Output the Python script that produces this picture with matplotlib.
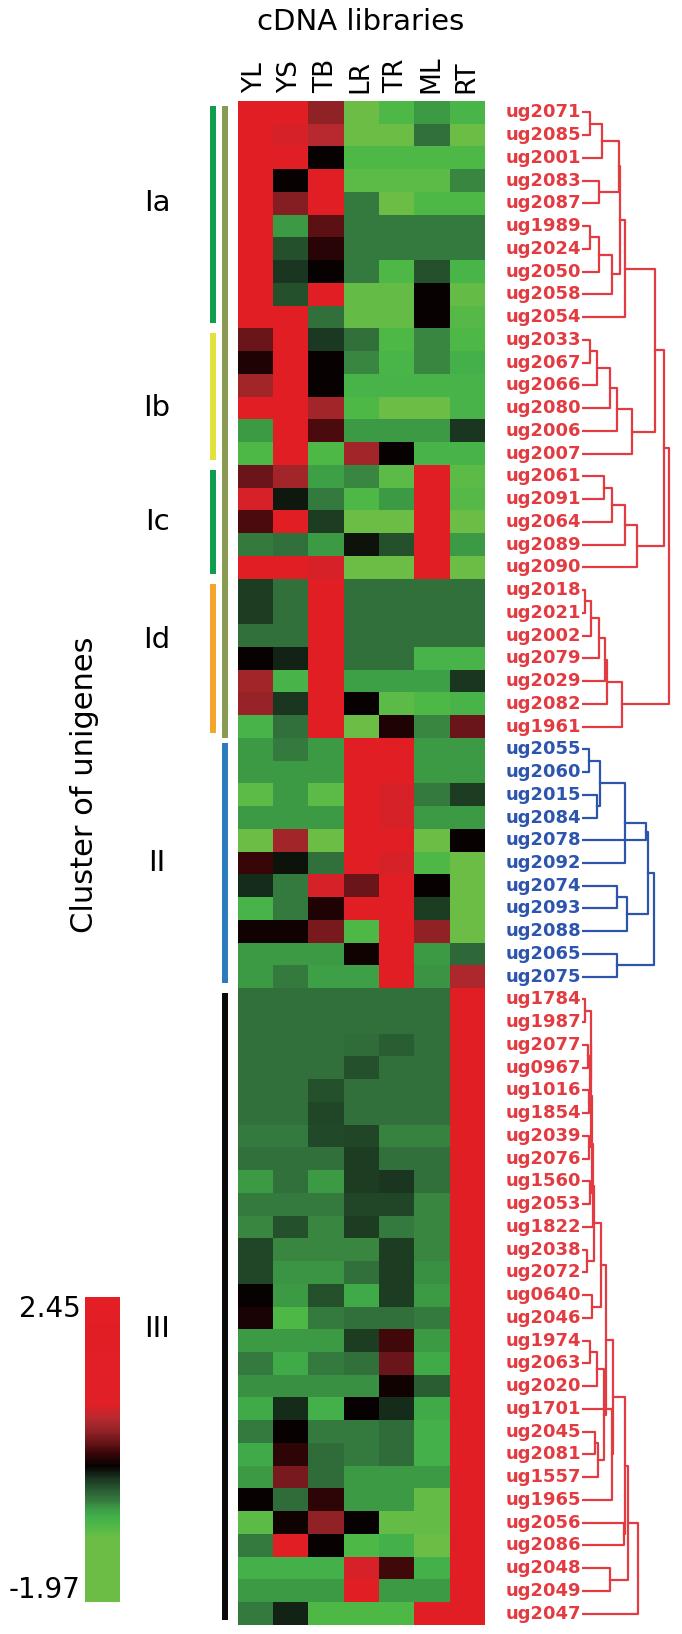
import matplotlib
matplotlib.use("Agg")
import matplotlib.pyplot as plt
import numpy as np
from matplotlib.colors import LinearSegmentedColormap

# libraries (columns of the heat map)
libraries = ["YL", "YS", "TB", "LR", "TR", "ML", "RT"]

# unigene labels, top to bottom
labels_I = ["ug2071", "ug2085", "ug2001", "ug2083", "ug2087", "ug1989", "ug2024",
            "ug2050", "ug2058", "ug2054", "ug2033", "ug2067", "ug2066", "ug2080",
            "ug2006", "ug2007", "ug2061", "ug2091", "ug2064", "ug2089", "ug2090",
            "ug2018", "ug2021", "ug2002", "ug2079", "ug2029", "ug2082", "ug1961"]
labels_II = ["ug2055", "ug2060", "ug2015", "ug2084", "ug2078", "ug2092", "ug2074",
             "ug2093", "ug2088", "ug2065", "ug2075"]
labels_III = ["ug1784", "ug1987", "ug2077", "ug0967", "ug1016", "ug1854", "ug2039",
              "ug2076", "ug1560", "ug2053", "ug1822", "ug2038", "ug2072", "ug0640",
              "ug2046", "ug1974", "ug2063", "ug2020", "ug1701", "ug2045", "ug2081",
              "ug1557", "ug1965", "ug2056", "ug2086", "ug2048", "ug2049", "ug2047"]

# expression values, one row per unigene
vals_I = [
    [2.0, 2.0, 0.5, -1.5, -0.85, -0.62, -0.8],
    [2.0, 0.85, 0.7, -1.3, -1.3, -0.45, -1.2],
    [2.0, 2.0, 0.0, -0.85, -0.85, -0.85, -0.85],
    [2.0, 0.0, 2.0, -0.95, -0.95, -0.95, -0.55],
    [2.0, 0.45, 2.0, -0.5, -1.3, -0.85, -0.85],
    [2.0, -0.62, 0.3, -0.5, -0.5, -0.5, -0.5],
    [2.0, -0.3, 0.12, -0.5, -0.5, -0.5, -0.5],
    [2.0, -0.18, 0.0, -0.5, -0.85, -0.3, -0.8],
    [2.0, -0.3, 2.0, -1.0, -1.0, 0.0, -1.0],
    [2.0, 2.0, -0.45, -1.0, -1.0, 0.0, -0.9],
    [0.35, 2.0, -0.2, -0.45, -0.85, -0.55, -0.85],
    [0.1, 2.0, 0.0, -0.55, -0.8, -0.55, -0.75],
    [0.6, 2.0, 0.0, -0.78, -0.78, -0.78, -0.78],
    [2.0, 2.0, 0.6, -0.85, -1.3, -1.3, -0.78],
    [-0.62, 2.0, 0.25, -0.62, -0.62, -0.62, -0.18],
    [-0.85, 2.0, -0.85, 0.6, 0.0, -0.78, -0.78],
    [0.35, 0.6, -0.65, -0.55, -0.95, 2.0, -0.95],
    [0.85, -0.08, -0.5, -0.85, -0.62, 2.0, -0.9],
    [0.25, 2.0, -0.22, -1.3, -1.3, 2.0, -1.1],
    [-0.5, -0.45, -0.62, -0.06, -0.3, 2.0, -0.62],
    [2.0, 2.0, 0.85, -1.3, -1.3, 2.0, -1.3],
    [-0.22, -0.45, 2.0, -0.45, -0.45, -0.45, -0.45],
    [-0.22, -0.45, 2.0, -0.45, -0.45, -0.45, -0.45],
    [-0.45, -0.45, 2.0, -0.45, -0.45, -0.45, -0.45],
    [0.0, -0.12, 2.0, -0.45, -0.45, -0.78, -0.78],
    [0.6, -0.78, 2.0, -0.65, -0.65, -0.65, -0.18],
    [0.55, -0.18, 2.0, 0.0, -0.95, -0.85, -0.78],
    [-0.78, -0.45, 2.0, -1.3, 0.1, -0.55, 0.35],
]
vals_II = [
    [-0.62, -0.5, -0.62, 2.0, 2.0, -0.62, -0.62],
    [-0.62, -0.62, -0.62, 2.0, 2.0, -0.62, -0.62],
    [-0.95, -0.62, -0.95, 2.0, 0.85, -0.5, -0.22],
    [-0.62, -0.62, -0.62, 2.0, 0.85, -0.62, -0.62],
    [-1.2, 0.6, -1.2, 2.0, 2.0, -1.2, 0.0],
    [0.18, -0.06, -0.45, 2.0, 0.85, -0.85, -1.3],
    [-0.15, -0.5, 0.85, 0.35, 2.0, 0.0, -1.3],
    [-0.78, -0.5, 0.1, 2.0, 2.0, -0.22, -1.3],
    [0.05, 0.05, 0.4, -0.85, 2.0, 0.5, -1.3],
    [-0.62, -0.62, -0.62, 0.05, 2.0, -0.62, -0.4],
    [-0.62, -0.5, -0.65, -0.65, 2.0, -0.6, 0.65],
]
vals_III = [
    [-0.45, -0.45, -0.45, -0.45, -0.45, -0.45, 2.0],
    [-0.45, -0.45, -0.45, -0.45, -0.45, -0.45, 2.0],
    [-0.45, -0.45, -0.45, -0.42, -0.35, -0.45, 2.0],
    [-0.45, -0.45, -0.45, -0.3, -0.45, -0.45, 2.0],
    [-0.45, -0.45, -0.3, -0.45, -0.45, -0.45, 2.0],
    [-0.45, -0.45, -0.25, -0.45, -0.45, -0.45, 2.0],
    [-0.5, -0.5, -0.27, -0.25, -0.52, -0.52, 2.0],
    [-0.45, -0.45, -0.45, -0.22, -0.45, -0.45, 2.0],
    [-0.62, -0.45, -0.62, -0.22, -0.18, -0.45, 2.0],
    [-0.5, -0.5, -0.5, -0.25, -0.25, -0.55, 2.0],
    [-0.55, -0.3, -0.55, -0.22, -0.5, -0.55, 2.0],
    [-0.25, -0.55, -0.55, -0.55, -0.22, -0.55, 2.0],
    [-0.25, -0.6, -0.6, -0.45, -0.22, -0.58, 2.0],
    [0.0, -0.62, -0.3, -0.7, -0.22, -0.62, 2.0],
    [0.08, -0.85, -0.5, -0.45, -0.45, -0.5, 2.0],
    [-0.62, -0.62, -0.62, -0.22, 0.22, -0.62, 2.0],
    [-0.5, -0.7, -0.5, -0.45, 0.35, -0.7, 2.0],
    [-0.58, -0.58, -0.58, -0.58, 0.04, -0.35, 2.0],
    [-0.7, -0.15, -0.75, 0.0, -0.15, -0.7, 2.0],
    [-0.5, 0.0, -0.5, -0.5, -0.42, -0.75, 2.0],
    [-0.7, 0.15, -0.42, -0.5, -0.42, -0.75, 2.0],
    [-0.62, 0.4, -0.42, -0.62, -0.62, -0.62, 2.0],
    [0.0, -0.42, 0.15, -0.62, -0.62, -1.0, 2.0],
    [-0.95, 0.04, 0.5, 0.0, -1.0, -1.0, 2.0],
    [-0.5, 2.0, 0.0, -0.85, -0.75, -1.05, 2.0],
    [-0.75, -0.75, -0.75, 0.85, 0.22, -0.75, 2.0],
    [-0.62, -0.62, -0.62, 2.0, -0.62, -0.62, 2.0],
    [-0.5, -0.12, -0.85, -0.85, -0.85, 2.0, 2.0],
]
vmin, vmax = -1.97, 2.45

# dendrograms: (left, right, height), leaves are row indices
ia = ((((0, 1, 8.3), 2, 20.0), (3, 4, 16.7), 36.7), (((5, 6, 8.3), 7, 16.7), 8, 30.0), 38.3)
ia = (ia, 9, 43.3)
ib = (((((10, 11, 8.3), 12, 15.0), 13, 28.3), 14, 35.0), 15, 50.0)
ic = ((((16, 17, 22.0), 18, 29.7), 19, 43.0), 20, 54.7)
id_ = ((((((21, 22, 3.0), 23, 8.5), 24, 16.5), 25, 23.0), 26, 25.0), 27, 40.0)
tree_I = (((ia, ib, 73.3), ic, 81.7), id_, 86.7)

ii_a = ((((28, 29, 6.7), (30, 31, 15.0), 18.3), 33, 43.3), 32, 64.0)
ii_b = ((34, 35, 35.0), 36, 45.0)
tree_II = ((ii_a, ii_b, 65.5), (37, 38, 35.0), 71.7)

iii_j = ((((39, 40, 2.7), ((41, 42, 5.5), (43, 44, 6.5), 7.5), 8.5), (45, 46, 7.0), 9.0), (47, 48, 8.0), 9.5)
iii_j = (iii_j, 49, 10.5)
iii_k = ((iii_j, (50, 51, 5.0), 11.5), (52, 53, 10.0), 18.5)
iii_p = (((54, 55, 8.3), 56, 15.0), ((58, 59, 12.5), 60, 16.0), 21.7)
iii_q = ((iii_k, iii_p, 23.5), (57, 61, 29.7), 31.3)
tree_III = ((((iii_q, (62, 63, 41.5), 43.0)), (64, 65, 28.0), 45.5), 66, 56.3)

# cluster groups: name, first row, last row, bar colour, label row
groups = ["Ia", "Ib", "Ic", "Id", "II", "III"]
group_first = [0, 10, 16, 21, 28, 39]
group_last = [9, 15, 20, 27, 38, 66]
group_colors = ["#0d9e4f", "#e2e23a", "#0d9e4f", "#f5a52a", "#2b7bbd", "#0a0a0a"]
group_outer = [True, True, True, True, False, False]
group_label_row = [4.0, 13.0, 18.0, 23.2, 33.0, 53.5]

labels = labels_I + labels_II + labels_III
data = np.array(vals_I + vals_II + vals_III)
n_rows = len(labels)

red_c = "#e23b41"
blue_c = "#2d55ad"

cmap = LinearSegmentedColormap.from_list("rg", [
    ((v - vmin) / (vmax - vmin), c) for v, c in [
        (-1.97, "#6cbd45"), (-1.05, "#6cbd45"), (-0.85, "#4db848"), (-0.72, "#41ad4a"),
        (-0.62, "#3d9a45"), (-0.5, "#357a3e"), (-0.42, "#306b3a"), (-0.3, "#24502c"),
        (-0.18, "#1a3520"), (0.0, "#060101"), (0.2, "#3d0709"), (0.35, "#6a1519"),
        (0.5, "#8f2226"), (0.7, "#b82a30"), (0.9, "#e11f26"), (2.45, "#e31e25")]])

W, H = 682, 1634
fig = plt.figure(figsize=(W / 100, H / 100), dpi=100)


def px_axes(x0, y0, x1, y1):
    return fig.add_axes([x0 / W, 1 - y1 / H, (x1 - x0) / W, (y1 - y0) / H])


top, bottom = 101, 1625

# heat map
ax = px_axes(237.7, top, 484, bottom)
im = ax.imshow(data, cmap=cmap, vmin=vmin, vmax=vmax, aspect="auto", interpolation="nearest")
ax.xaxis.tick_top()
ax.set_xticks(range(len(libraries)))
ax.set_xticklabels(libraries, rotation=90, fontsize=19)
ax.tick_params(axis="x", length=0, pad=6)
ax.set_yticks([])
for s in ax.spines.values():
    s.set_visible(False)

fig.text(361 / W, 1 - 22 / H, "cDNA libraries", ha="center", va="center", fontsize=21)

# cluster bars
axb = px_axes(120, top, 236, bottom)
axb.set_xlim(120, 236)
axb.set_ylim(n_rows - 0.5, -0.5)
axb.axis("off")
gap = 0.22
for name, a, b, col, outer, ly in zip(groups, group_first, group_last, group_colors,
                                      group_outer, group_label_row):
    xb = 213 if outer else 224.7
    axb.plot([xb, xb], [a - 0.5 + gap, b + 0.5 - gap], color=col, lw=4.3, solid_capstyle="butt")
    axb.text(157, ly, name, ha="center", va="center", fontsize=21)
# olive bar spanning cluster I
axb.plot([224.7, 224.7], [group_first[0] - 0.5 + gap, group_last[3] + 0.5],
         color="#8b9a52", lw=4.3, solid_capstyle="butt")

fig.text(85 / W, 1 - 785 / H, "Cluster of unigenes", rotation=90, ha="center", va="center",
         fontsize=22)

# dendrogram and labels
axd = px_axes(582, top, 682, bottom)
axd.set_xlim(0, 100)
axd.set_ylim(n_rows - 0.5, -0.5)
axd.axis("off")


def draw_tree(node, color):
    if isinstance(node, int):
        return 0.0, float(node)
    left, right, h = node
    xl, yl = draw_tree(left, color)
    xr, yr = draw_tree(right, color)
    axd.plot([xl, h, h, xr], [yl, yl, yr, yr], color=color, lw=1.6)
    return h, (yl + yr) / 2


draw_tree(tree_I, red_c)
draw_tree(tree_II, blue_c)
draw_tree(tree_III, red_c)

blue_rows = range(len(labels_I), len(labels_I) + len(labels_II))
for i, lab in enumerate(labels):
    axd.text(-0.5, i, lab, ha="right", va="center", fontsize=13, fontweight="bold",
             color=blue_c if i in blue_rows else red_c, clip_on=False)

# colour bar
cax = px_axes(85, 1297, 120, 1602)
cb = fig.colorbar(im, cax=cax)
cb.set_ticks([])
cb.outline.set_visible(False)
fig.text(81 / W, 1 - 1295 / H, "%.2f" % vmax, ha="right", va="top", fontsize=20)
fig.text(81 / W, 1 - 1604 / H, "%.2f" % vmin, ha="right", va="bottom", fontsize=20)

fig.savefig("out.png", dpi=100)
